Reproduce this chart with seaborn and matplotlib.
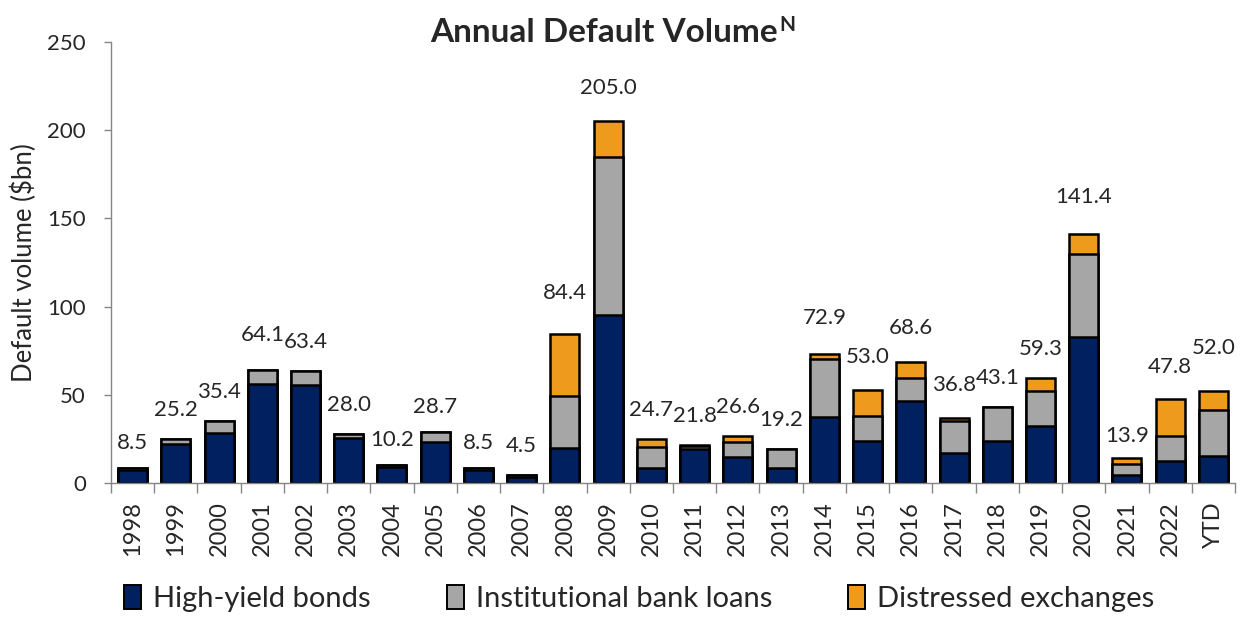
import numpy as np
import pandas as pd
import matplotlib
matplotlib.use("Agg")
import matplotlib.pyplot as plt
from matplotlib.patches import Patch
from matplotlib.ticker import FixedLocator, NullFormatter
import seaborn as sns

# Annual default volume by type ($bn)
years = ["1998", "1999", "2000", "2001", "2002", "2003", "2004", "2005", "2006",
         "2007", "2008", "2009", "2010", "2011", "2012", "2013", "2014", "2015",
         "2016", "2017", "2018", "2019", "2020", "2021", "2022", "YTD"]
high_yield = [7.6, 22.0, 28.5, 56.0, 55.5, 25.5, 9.0, 23.0, 7.5, 3.5, 20.0, 95.0, 8.5,
              19.0, 14.5, 8.5, 37.5, 24.0, 46.5, 17.0, 24.0, 32.5, 82.5, 4.5, 12.5, 15.5]
bank_loans = [0.9, 3.2, 6.9, 8.1, 7.9, 2.5, 1.2, 5.7, 1.0, 1.0, 29.5, 90.0, 12.0,
              2.0, 8.5, 10.7, 33.0, 14.0, 13.0, 18.0, 19.1, 19.5, 47.5, 6.5, 14.0, 26.0]
distressed = [0.0, 0.0, 0.0, 0.0, 0.0, 0.0, 0.0, 0.0, 0.0, 0.0, 34.9, 20.0, 4.2,
              0.8, 3.6, 0.0, 2.4, 15.0, 9.1, 1.8, 0.0, 7.3, 11.4, 2.9, 21.3, 10.5]
series_names = ["High-yield bonds", "Institutional bank loans", "Distressed exchanges"]

NAVY = "#002060"
GREY = "#A6A6A6"
ORANGE = "#EE9A1D"
AXIS_GREY = "#868686"

sns.set_theme(style="white")
plt.rcParams["font.family"] = ["Lato", "DejaVu Sans"]

df = pd.DataFrame({"year": years, "hy": high_yield, "loans": bank_loans, "dist": distressed})
df["hy_loans"] = df["hy"] + df["loans"]
df["total"] = df["hy_loans"] + df["dist"]

fig = plt.figure(figsize=(12.41, 6.17), dpi=100)
ax = fig.add_axes([0.0894, 0.2172, 0.9058, 0.7147])

# Stack by overdrawing cumulative totals, tallest first
for col, color in [("total", ORANGE), ("hy_loans", GREY), ("hy", NAVY)]:
    sns.barplot(data=df, x="year", y=col, color=color, width=0.67,
                edgecolor="black", linewidth=1.8, saturation=1, ax=ax, zorder=2)

ax.set_ylim(0, 250)
ax.set_xlim(-0.5, len(years) - 0.5)
ax.set_yticks([0, 50, 100, 150, 200, 250])
ax.tick_params(axis="y", direction="out", length=5, width=1, color=AXIS_GREY,
               labelsize=16, pad=13, left=True)
ax.set_xticks(range(len(years)))
ax.set_xticklabels(years, rotation=90)
ax.tick_params(axis="x", which="major", length=0, labelsize=17, pad=13)
ax.xaxis.set_minor_locator(FixedLocator(np.arange(-0.5, len(years), 1.0)))
ax.xaxis.set_minor_formatter(NullFormatter())
ax.tick_params(axis="x", which="minor", direction="out", length=7, width=1,
               color=AXIS_GREY, bottom=True)
for side in ["top", "right"]:
    ax.spines[side].set_visible(False)
for side in ["left", "bottom"]:
    ax.spines[side].set_color(AXIS_GREY)
    ax.spines[side].set_linewidth(1)
ax.set_xlabel("")
ax.set_ylabel("Default volume (\\$bn)", fontsize=18.5)
ax.yaxis.set_label_coords(-0.066, 0.5)

# Total labels above each stack (lift in pixels above the bar top)
lift = {"1998": 25, "2001": 35, "2004": 25, "2005": 25, "2006": 25, "2008": 41,
        "2009": 33, "2014": 36, "2015": 33, "2016": 34, "2017": 33, "2020": 37,
        "2021": 22, "2022": 32, "YTD": 43}
for i, (yr, tot) in enumerate(zip(df["year"], df["total"])):
    ax.annotate(f"{tot:.1f}", xy=(i, tot), xytext=(0, lift.get(yr, 29) / 1.389),
                textcoords="offset points", ha="center", va="center", fontsize=16)

# Title with superscript note marker
title = fig.text(0.487, 0.947, "Annual Default Volume", ha="center", va="center",
                 fontsize=24, fontweight="bold")
ax.annotate("N", xy=(1.0, 1.0), xycoords=title, xytext=(1, -5),
            textcoords="offset points", ha="left", va="center",
            fontsize=15, fontweight="bold")

handles = [Patch(facecolor=c, edgecolor="black", linewidth=1.4) for c in (NAVY, GREY, ORANGE)]
fig.legend(handles, series_names, loc="center", bbox_to_anchor=(0.515, 0.03), ncol=3,
           frameon=False, fontsize=21, handlelength=0.6, handleheight=0.9,
           handletextpad=0.4, columnspacing=2.6, borderpad=0.1)

fig.savefig("out.png", dpi=100)
